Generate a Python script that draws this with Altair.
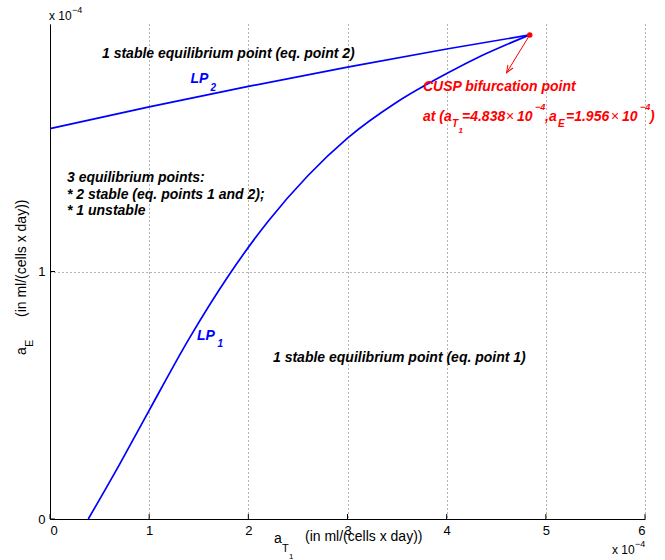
import math
import altair as alt
import pandas as pd

# ---------------- data (units of 1e-4) ----------------
lp1_x = [0.386, 0.7, 1.0, 1.4, 1.8, 2.2, 2.6, 3.0, 3.5, 4.0, 4.3, 4.6, 4.838]
lp1_y = [0.0, 0.220, 0.439, 0.727, 0.983, 1.203, 1.387, 1.539, 1.685, 1.800, 1.862, 1.916, 1.956]
lp2_x = [0.0, 1.0, 2.0, 3.0, 4.0, 4.838]
lp2_y = [1.577, 1.665, 1.748, 1.826, 1.899, 1.956]
cusp_x = [4.838]
cusp_y = [1.956]
arrow_x = [4.838, 4.604]
arrow_y = [1.956, 1.803]
x_ticks = [0, 1, 2, 3, 4, 5, 6]
y_ticks = [0, 1]
x_domain = [0, 6]
y_domain = [0, 2]

# ---------------- layout ----------------
LEFT, TOP = 50, 24
W, H = 595, 495
FONT = "Liberation Sans"
BLUE = "#0000ff"
RED = "#ff0000"

xs = alt.Scale(domain=x_domain, nice=False, zero=False)
ys = alt.Scale(domain=y_domain, nice=False, zero=False)
xaxis = alt.Axis(values=x_ticks, title=None, grid=True, gridDash=[1, 3], gridColor="#666666",
                 gridWidth=1, ticks=False, labelFont=FONT, labelFontSize=13, labelColor="black",
                 labelPadding=5, domainColor="black", domainWidth=1, format="d", labelAngle=0)
yaxis = alt.Axis(values=y_ticks, title=None, grid=True, gridDash=[1, 3], gridColor="#666666",
                 gridWidth=1, ticks=False, labelFont=FONT, labelFontSize=13, labelColor="black",
                 labelPadding=5, domainColor="black", domainWidth=1, format="d")


def X(f):
    return alt.X(f, type="quantitative", scale=xs, axis=xaxis)


def Y(f):
    return alt.Y(f, type="quantitative", scale=ys, axis=yaxis)


curves = pd.DataFrame(
    {"x": lp1_x + lp2_x, "y": lp1_y + lp2_y,
     "s": ["LP1"] * len(lp1_x) + ["LP2"] * len(lp2_x),
     "o": list(range(len(lp1_x))) + list(range(len(lp2_x)))}
)

lines = alt.Chart(curves).mark_line(color=BLUE, strokeWidth=1.7, interpolate="monotone").encode(
    x=X("x"), y=Y("y"), detail="s:N", order="o:Q")

cusp = alt.Chart(pd.DataFrame({"x": cusp_x, "y": cusp_y})).mark_point(
    filled=True, color=RED, size=30, opacity=1).encode(x=X("x"), y=Y("y"))

arrow_df = pd.DataFrame({"x": [arrow_x[0]], "y": [arrow_y[0]], "x2": [arrow_x[1]], "y2": [arrow_y[1]]})
arrow_line = alt.Chart(arrow_df).mark_rule(color=RED, strokeWidth=1).encode(
    x=X("x"), y=Y("y"), x2="x2", y2="y2")

ang = math.degrees(math.atan2((arrow_x[0] - arrow_x[1]) * W / (x_domain[1] - x_domain[0]),
                              (arrow_y[0] - arrow_y[1]) * H / (y_domain[1] - y_domain[0])))
head = alt.Chart(pd.DataFrame({"x": [arrow_x[1]], "y": [arrow_y[1]]})).mark_point(
    shape="M -0.4 -1 L 0 0 L 0.4 -1", filled=False, stroke=RED, strokeWidth=1, size=220,
    angle=ang, opacity=1).encode(x=X("x"), y=Y("y"))

xt = alt.Chart(pd.DataFrame({"x": x_ticks})).mark_rule(color="black", strokeWidth=1).encode(
    x=X("x"), y=alt.value(H), y2=alt.value(H - 5))
yt = alt.Chart(pd.DataFrame({"y": y_ticks})).mark_rule(color="black", strokeWidth=1).encode(
    y=Y("y"), x=alt.value(0), x2=alt.value(5))

# ---------------- text annotations (absolute page pixels) ----------------
# text, px, py, size, color, weight, style, align, angle
ann = [
    ("x 10", 49, 16, 12, "black", "normal", "normal", "left", 0),
    ("\u22124", 72, 10, 9, "black", "normal", "normal", "left", 0),
    ("x 10", 612, 550, 12, "black", "normal", "normal", "left", 0),
    ("\u22124", 635, 544, 9, "black", "normal", "normal", "left", 0),
    ("a", 274, 539, 14, "black", "normal", "normal", "left", 0),
    ("T", 282, 549, 11, "black", "normal", "normal", "left", 0),
    ("1", 289, 557, 8, "black", "normal", "normal", "left", 0),
    ("(in ml/(cells x day))", 305, 537, 14, "black", "normal", "normal", "left", 0),
    ("a", 22, 355, 14, "black", "normal", "normal", "left", 270),
    ("E", 30, 347, 11, "black", "normal", "normal", "left", 270),
    ("(in ml/(cells x day))", 22, 317, 14, "black", "normal", "normal", "left", 270),
    ("1 stable equilibrium point (eq. point 2)", 102, 54, 14, "black", "bold", "italic", "left", 0),
    ("LP", 190.5, 79, 14, BLUE, "bold", "italic", "left", 0),
    ("2", 210.5, 88, 10, BLUE, "bold", "italic", "left", 0),
    ("3 equilibrium points:", 67, 178, 14, "black", "bold", "italic", "left", 0),
    ("* 2 stable (eq. points 1 and 2);", 67, 194.5, 14, "black", "bold", "italic", "left", 0),
    ("* 1 unstable", 67, 211, 14, "black", "bold", "italic", "left", 0),
    ("LP", 197, 336, 14, BLUE, "bold", "italic", "left", 0),
    ("1", 217.5, 344, 10, BLUE, "bold", "italic", "left", 0),
    ("1 stable equilibrium point (eq. point 1)", 273, 358, 14, "black", "bold", "italic", "left", 0),
    ("CUSP bifurcation point", 423, 87, 14, RED, "bold", "italic", "left", 0),
    ("at (a", 423, 117, 14, RED, "bold", "italic", "left", 0),
    ("T", 452, 124, 10, RED, "bold", "italic", "left", 0),
    ("1", 458.5, 131, 8, RED, "bold", "italic", "left", 0),
    ("=4.838", 462, 117, 14, RED, "bold", "italic", "left", 0),
    ("\u00d7", 506, 117, 14, RED, "normal", "normal", "left", 0),
    ("10", 517, 117, 14, RED, "bold", "italic", "left", 0),
    ("\u22124", 535, 107, 9, RED, "bold", "italic", "left", 0),
    (",a", 545, 117, 14, RED, "bold", "italic", "left", 0),
    ("E", 558, 124, 10, RED, "bold", "italic", "left", 0),
    ("=1.956", 566, 117, 14, RED, "bold", "italic", "left", 0),
    ("\u00d7", 611, 117, 14, RED, "normal", "normal", "left", 0),
    ("10", 622, 117, 14, RED, "bold", "italic", "left", 0),
    ("\u22124", 640, 107, 9, RED, "bold", "italic", "left", 0),
    (")", 650, 117, 14, RED, "bold", "italic", "left", 0),
]

one = alt.Data(values=[{"k": 1}])
texts = []
for (t, px, py, sz, col, wt, st, al, an) in ann:
    texts.append(
        alt.Chart(one).mark_text(text=t, font=FONT, fontSize=sz, color=col, fontWeight=wt,
                                 fontStyle=st, align=al, baseline="middle", angle=an).encode(
            x=alt.value(px - LEFT), y=alt.value(py - TOP))
    )

chart = alt.layer(xt, yt, lines, arrow_line, head, cusp, *texts).properties(
    width=W, height=H,
    autosize=alt.AutoSizeParams(type="none"),
    padding={"left": LEFT, "top": TOP, "right": 665 - LEFT - W, "bottom": 560 - TOP - H},
    background="white",
).configure_view(stroke=None)

chart.save("out.html", embed_options={"renderer": "svg", "actions": False})
